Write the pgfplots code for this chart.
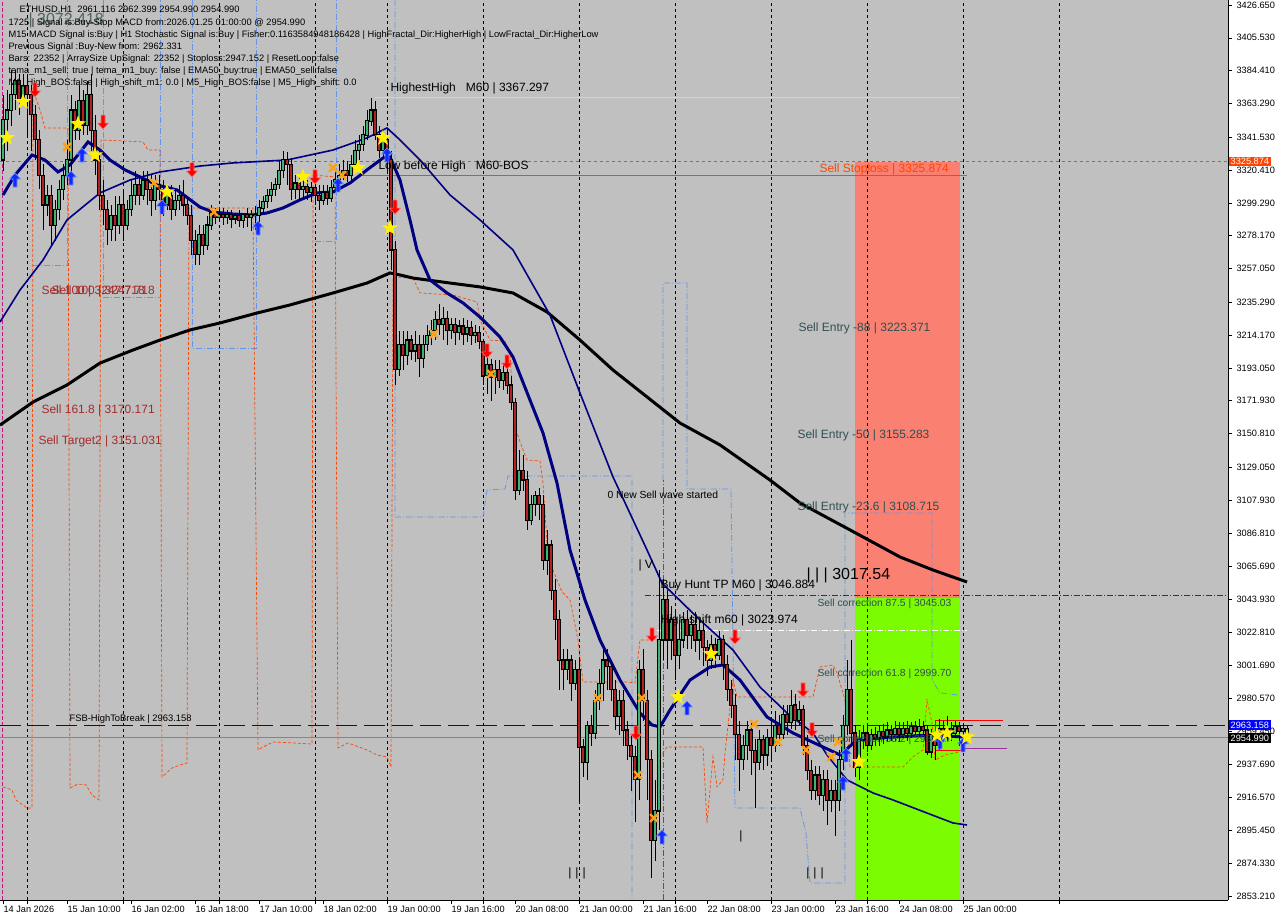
\documentclass[border=0pt]{standalone}
\usepackage{pgfplots}
\usepackage{pgfplotstable}
\pgfplotsset{compat=1.18}
\usepackage{fontspec}
\setmainfont{Liberation Sans}
\newcommand\fs[1]{\fontsize{#1}{#1}\selectfont}

\definecolor{chartbg}{RGB}{192,192,192}
\definecolor{bull}{RGB}{60,179,113}
\definecolor{bear}{RGB}{178,34,34}
\definecolor{orred}{RGB}{255,69,0}
\definecolor{salmonc}{RGB}{250,128,114}
\definecolor{lawn}{RGB}{124,252,0}
\definecolor{slate}{RGB}{47,79,79}
\definecolor{lslate}{RGB}{119,136,153}
\definecolor{cornflower}{RGB}{100,149,237}
\definecolor{brownred}{RGB}{165,42,42}
\definecolor{navyc}{RGB}{0,0,128}
\definecolor{mblue}{RGB}{0,0,205}
\definecolor{pale}{RGB}{200,235,120}
\definecolor{vred}{RGB}{199,21,133}
\definecolor{arrblue}{RGB}{20,40,255}
\definecolor{arrblueE}{RGB}{110,150,255}
\definecolor{arrred}{RGB}{255,0,0}
\definecolor{arrredE}{RGB}{255,110,110}
\definecolor{xorange}{RGB}{255,160,20}

% filled five-point star
\pgfdeclareplotmark{fstar}{%
  \pgfpathmoveto{\pgfpointpolar{90}{8.5pt}}%
  \pgfpathlineto{\pgfpointpolar{126}{3.4pt}}%
  \pgfpathlineto{\pgfpointpolar{162}{8.5pt}}%
  \pgfpathlineto{\pgfpointpolar{198}{3.4pt}}%
  \pgfpathlineto{\pgfpointpolar{234}{8.5pt}}%
  \pgfpathlineto{\pgfpointpolar{270}{3.4pt}}%
  \pgfpathlineto{\pgfpointpolar{306}{8.5pt}}%
  \pgfpathlineto{\pgfpointpolar{342}{3.4pt}}%
  \pgfpathlineto{\pgfpointpolar{18}{8.5pt}}%
  \pgfpathlineto{\pgfpointpolar{54}{3.4pt}}%
  \pgfpathclose\pgfusepathqfill}
% buy / sell arrows
\pgfdeclareplotmark{uparr}{%
  \pgfpathmoveto{\pgfqpoint{0pt}{7pt}}%
  \pgfpathlineto{\pgfqpoint{5.5pt}{1pt}}%
  \pgfpathlineto{\pgfqpoint{2pt}{1pt}}%
  \pgfpathlineto{\pgfqpoint{2pt}{-7pt}}%
  \pgfpathlineto{\pgfqpoint{-2pt}{-7pt}}%
  \pgfpathlineto{\pgfqpoint{-2pt}{1pt}}%
  \pgfpathlineto{\pgfqpoint{-5.5pt}{1pt}}%
  \pgfpathclose\pgfusepathqfillstroke}
\pgfdeclareplotmark{dnarr}{%
  \pgfpathmoveto{\pgfqpoint{0pt}{-7pt}}%
  \pgfpathlineto{\pgfqpoint{5.5pt}{-1pt}}%
  \pgfpathlineto{\pgfqpoint{2pt}{-1pt}}%
  \pgfpathlineto{\pgfqpoint{2pt}{7pt}}%
  \pgfpathlineto{\pgfqpoint{-2pt}{7pt}}%
  \pgfpathlineto{\pgfqpoint{-2pt}{-1pt}}%
  \pgfpathlineto{\pgfqpoint{-5.5pt}{-1pt}}%
  \pgfpathclose\pgfusepathqfillstroke}

% ETHUSD H1 bars: x position, open, high, low, close
\pgfplotstableread{
x o h l c
3 3327 3369 3320 3353
7 3353 3372 3333 3359
11 3359 3385 3349 3369
15 3369 3385 3359 3378
19 3378 3382 3356 3365
23 3365 3382 3362 3375
27 3375 3382 3343 3369
31 3369 3375 3333 3356
35 3356 3362 3327 3340
39 3340 3346 3308 3317
43 3317 3324 3282 3298
47 3298 3311 3291 3304
51 3304 3311 3272 3285
55 3285 3301 3275 3295
59 3295 3314 3288 3308
63 3308 3324 3301 3317
67 3317 3340 3311 3327
71 3327 3369 3317 3359
75 3359 3365 3340 3346
79 3346 3375 3340 3365
83 3365 3372 3343 3349
87 3349 3378 3343 3369
91 3369 3382 3333 3346
95 3346 3356 3317 3327
99 3327 3333 3295 3304
103 3304 3314 3285 3295
107 3295 3301 3272 3282
111 3282 3298 3275 3291
115 3291 3304 3275 3285
119 3285 3304 3279 3298
123 3298 3308 3275 3285
127 3285 3301 3282 3295
131 3295 3314 3291 3304
135 3304 3320 3298 3311
139 3311 3317 3298 3304
143 3304 3320 3301 3314
147 3314 3320 3298 3308
151 3308 3317 3291 3301
155 3301 3317 3295 3311
159 3311 3317 3301 3308
163 3308 3314 3291 3298
167 3298 3311 3295 3304
171 3304 3311 3288 3295
175 3295 3308 3291 3301
179 3301 3311 3295 3304
183 3304 3314 3291 3298
187 3298 3304 3285 3291
191 3291 3298 3266 3275
195 3275 3282 3259 3266
199 3266 3285 3259 3279
203 3279 3285 3266 3272
207 3272 3291 3269 3285
211 3285 3298 3282 3293
215 3293 3296 3286 3290
219 3290 3295 3287 3292
223 3292 3296 3285 3290
227 3290 3295 3286 3292
231 3292 3295 3283 3289
235 3289 3293 3286 3291
239 3291 3295 3284 3288
243 3288 3293 3283 3292
247 3292 3296 3284 3290
251 3290 3295 3281 3292
255 3292 3297 3282 3291
259 3291 3301 3287 3296
263 3296 3304 3292 3300
267 3300 3308 3296 3304
271 3304 3313 3300 3308
275 3308 3315 3304 3311
279 3311 3327 3308 3320
283 3320 3333 3315 3327
287 3327 3332 3311 3324
291 3324 3328 3301 3308
295 3308 3317 3302 3312
299 3312 3317 3301 3308
303 3308 3315 3302 3310
307 3310 3314 3301 3306
311 3306 3313 3300 3309
315 3309 3314 3298 3304
319 3304 3311 3295 3301
323 3301 3311 3298 3306
327 3306 3311 3298 3302
331 3302 3314 3300 3309
335 3309 3320 3306 3314
339 3314 3324 3311 3317
343 3317 3327 3314 3320
347 3320 3326 3313 3317
351 3317 3330 3314 3324
355 3324 3340 3320 3333
359 3333 3343 3327 3337
363 3337 3349 3333 3343
367 3343 3359 3340 3352
371 3352 3367 3349 3359
375 3359 3365 3340 3343
379 3343 3349 3328 3333
383 3333 3346 3328 3340
387 3340 3346 3320 3327
391 3327 3333 3256 3269
395 3269 3275 3182 3192
399 3192 3217 3188 3208
403 3208 3217 3192 3201
407 3201 3217 3195 3211
411 3211 3214 3198 3204
415 3204 3217 3197 3208
419 3208 3214 3187 3199
423 3199 3214 3193 3208
427 3208 3221 3204 3214
431 3214 3224 3208 3217
435 3217 3230 3211 3224
439 3224 3234 3214 3221
443 3221 3232 3211 3225
447 3225 3230 3208 3217
451 3217 3225 3212 3221
455 3221 3225 3208 3216
459 3216 3224 3211 3220
463 3220 3225 3208 3215
467 3215 3224 3210 3219
471 3219 3223 3208 3214
475 3214 3221 3209 3216
479 3216 3220 3205 3210
483 3210 3212 3182 3188
487 3188 3201 3176 3195
491 3195 3199 3172 3187
495 3187 3198 3176 3192
499 3192 3198 3180 3185
503 3185 3195 3179 3190
507 3190 3195 3176 3182
511 3182 3188 3166 3171
515 3171 3174 3108 3114
519 3114 3140 3111 3127
523 3127 3137 3114 3121
527 3121 3127 3089 3095
531 3095 3111 3092 3105
535 3105 3114 3098 3111
539 3111 3116 3095 3105
543 3105 3111 3063 3069
547 3069 3089 3060 3079
551 3079 3082 3044 3050
555 3050 3057 3018 3031
559 3031 3037 2986 3005
563 3005 3012 2986 2999
567 2999 3012 2992 3005
571 3005 3008 2979 2990
575 2990 3005 2986 2999
579 2999 3005 2913 2949
583 2949 2954 2930 2939
587 2939 2966 2928 2963
591 2963 2970 2950 2958
595 2958 2986 2954 2979
599 2979 2999 2973 2990
603 2990 3012 2979 3005
607 3005 3012 2986 3001
611 3001 3005 2979 2986
615 2986 2992 2960 2969
619 2969 2986 2957 2979
623 2979 2986 2950 2960
627 2960 2966 2941 2950
631 2950 2957 2921 2943
635 2943 2950 2901 2928
639 2928 3005 2915 2999
643 2999 3012 2966 2979
647 2979 2986 2915 2941
651 2941 2947 2865 2889
655 2889 2928 2876 2908
659 2908 3063 2896 3018
663 3018 3057 3005 3044
667 3044 3050 2999 3018
671 3018 3040 3005 3031
675 3031 3037 2992 3008
679 3008 3031 2999 3018
683 3018 3036 3013 3031
687 3031 3037 3012 3021
691 3021 3034 3012 3028
695 3028 3036 3010 3018
699 3018 3031 3005 3024
703 3024 3031 3001 3013
707 3013 3018 2995 3005
711 3005 3021 2999 3015
715 3015 3019 3000 3008
719 3008 3024 3005 3018
723 3018 3021 2992 3002
727 3002 3008 2979 2986
731 2986 2992 2968 2976
735 2976 2983 2941 2957
739 2957 2966 2921 2941
743 2941 2957 2934 2950
747 2950 2966 2941 2960
751 2960 2966 2931 2947
755 2947 2954 2910 2939
759 2939 2960 2934 2954
763 2954 2957 2934 2944
767 2944 2961 2937 2955
771 2955 2966 2941 2950
775 2950 2972 2946 2963
779 2963 2970 2950 2957
783 2957 2976 2954 2970
787 2970 2976 2957 2965
791 2965 2986 2961 2976
795 2976 2983 2960 2966
799 2966 2979 2963 2973
803 2973 2976 2944 2950
807 2950 2957 2928 2934
811 2934 2941 2915 2921
815 2921 2937 2915 2931
819 2931 2937 2912 2918
823 2918 2934 2908 2928
827 2928 2934 2899 2915
831 2915 2928 2907 2921
835 2921 2928 2892 2915
839 2915 2947 2908 2941
843 2941 2970 2934 2963
847 2963 3005 2957 2986
851 2986 3018 2950 2958
855 2958 2963 2930 2936
859 2936 2960 2928 2954
863 2954 2963 2948 2958
867 2958 2963 2946 2950
871 2950 2961 2947 2957
875 2957 2962 2950 2955
879 2955 2963 2950 2959
883 2959 2964 2951 2956
887 2956 2965 2952 2960
891 2960 2963 2953 2957
895 2957 2966 2953 2961
899 2961 2965 2952 2957
903 2957 2965 2955 2961
907 2961 2966 2953 2958
911 2958 2965 2955 2962
915 2962 2966 2956 2959
919 2959 2967 2956 2962
923 2962 2966 2956 2960
927 2960 2963 2944 2946
931 2946 2961 2942 2957
935 2957 2960 2941 2950
939 2950 2967 2947 2961
943 2961 2966 2952 2957
947 2957 2969 2953 2961
951 2961 2965 2953 2958
955 2958 2966 2955 2962
959 2962 2965 2950 2959
963 2959 2963 2952 2961.116
967 2961.116 2962.399 2954.990 2954.990
}\candles

\begin{document}
\begin{tikzpicture}
\begin{axis}[
  at={(0,0)}, anchor=south west,
  scale only axis, width=1228pt, height=900pt,
  xmin=0, xmax=1228, ymin=2850.63, ymax=3429.87,
  axis background/.style={fill=chartbg},
  axis x line*=bottom, axis y line*=right,
  axis line style={-, black, line width=0.8pt},
  tick align=outside, major tick length=4pt,
  tick style={black, line width=0.6pt},
  scaled y ticks=false,
  /pgf/number format/assume math mode=true,
  xtick={3,67,131,195,259,323,387,451,515,579,643,707,771,835,899,963},
  xticklabels={14 Jan 2026,15 Jan 10:00,16 Jan 02:00,16 Jan 18:00,17 Jan 10:00,18 Jan 02:00,19 Jan 00:00,19 Jan 16:00,20 Jan 08:00,21 Jan 00:00,21 Jan 16:00,22 Jan 08:00,23 Jan 00:00,23 Jan 16:00,24 Jan 08:00,25 Jan 00:00},
  xticklabel style={anchor=north west, xshift=-3pt, yshift=1.5pt, font=\fs{9.2}},
  extra x ticks={27,123,219,315,483,675,867,1059},
  extra x tick labels={},
  ytick={3426.650,3405.530,3384.410,3363.290,3341.530,3320.410,3299.290,3278.170,3257.050,3235.290,3214.170,3193.050,3171.930,3150.810,3129.050,3107.930,3086.810,3065.690,3043.930,3022.810,3001.690,2980.570,2959.450,2937.690,2916.570,2895.450,2874.330,2853.210},
  yticklabels={3426.650,3405.530,3384.410,3363.290,3341.530,3320.410,3299.290,3278.170,3257.050,3235.290,3214.170,3193.050,3171.930,3150.810,3129.050,3107.930,3086.810,3065.690,3043.930,3022.810,3001.690,2980.570,2959.450,2937.690,2916.570,2895.450,2874.330,2853.210},
  yticklabel style={font=\fs{9.2}, xshift=1pt},
]

% sell zone and correction zone
\addplot[fill=salmonc, draw=none, forget plot] coordinates {(855,3325.874) (960,3325.874) (960,3045.03) (855,3045.03)} -- cycle;
\addplot[fill=lawn, draw=none, forget plot] coordinates {(855,3045.03) (960,3045.03) (960,2850.63) (855,2850.63)} -- cycle;

% day separators
\foreach \d in {27,123,219,315,387,483,579,675,771,867,963,1059}{
  \edef\tmp{\noexpand\addplot[black, line width=0.8pt, dash pattern=on 3pt off 3pt, forget plot] coordinates {(\d,2850.63) (\d,3429.87)};}\tmp
}
\addplot[vred, line width=1pt, dash pattern=on 4pt off 2pt] coordinates {(2,2850.63) (2,3429.87)};
\addplot[vred, line width=0.8pt, dash pattern=on 6pt off 2pt on 1pt off 2pt] coordinates {(663,2850.63) (663,3120.9)};

% fractal step lines
\begin{scope}[cornflower, line width=0.8pt, dash pattern=on 6pt off 2pt on 1pt off 2pt]
\addplot[cornflower] coordinates {(33,3259.3) (67,3259.3) (67,3429.87)};
\addplot[cornflower] coordinates {(103,3429.87) (103,3238.7) (160,3238.7) (160,3429.87)};
\addplot[cornflower] coordinates {(192,3429.87) (192,3205.9) (256,3205.9) (256,3429.87)};
\addplot[cornflower] coordinates {(315,3274.8) (336,3274.8) (336,3429.87)};
\addplot[cornflower] coordinates {(395,3429.87) (395,3097.1) (483,3097.1) (487,3114.5) (505,3115.1) (508,3123.5) (632,3123.5) (632,2851.3)};
\addplot[cornflower] coordinates {(663,3120.9) (663,3247.7) (687,3247.7) (687,3115.1) (731,3115.1) (733,3018.0) (735,2909.8) (800,2909.8) (806,2893.7) (810,2861.6) (845,2861.6) (845,3099.7) (932,3099.7) (932,2992.2) (940,2983.9) (957,2982.6)};
\end{scope}

% channel line
\addplot[orred, line width=0.7pt, dash pattern=on 3pt off 2pt] coordinates {
(3,2923.4) (12,2921.4) (16,2915.0) (27,2909.8) (32,2909.8) (33,3372.0) (40,3359.1) (45,3347.5) (68,3347.5)
(70,2922.7) (78,2925.3) (86,2924.7) (92,2918.2) (99,2915.0) (101,3339.8) (143,3338.5) (148,3333.3) (160,3333.3)
(162,2929.8) (172,2935.6) (180,2937.5) (187,2938.8) (189,3296.0) (253,3296.0)
(258,2947.2) (263,2949.1) (273,2952.3) (293,2951.7) (312,2951.0) (313,3317.2) (335,3316.0)
(338,2948.5) (348,2951.7) (367,2947.2) (377,2944.0) (387,2942.7) (391,2936.2) (393,3251.6) (413,3250.9)
(420,3241.3) (453,3240.0) (477,3235.5) (480,3223.9) (490,3211.0) (505,3210.4) (510,3202.7) (513,3170.5)
(517,3151.2) (523,3140.3) (527,3133.8) (540,3133.2) (543,3119.0) (547,3080.4) (553,3063.0) (562,3048.9)
(570,3043.7) (578,3018.0) (583,2990.9) (627,2990.9) (635,2990.3) (640,3018.0) (658,3018.0) (658,2940.7)
(667,2949.1) (703,2949.1) (707,2900.2) (713,2942.7) (717,2923.4) (723,2927.9) (725,2945.2) (733,2992.2)
(737,2981.3) (813,2981.3) (820,3000.6) (833,3001.9) (837,2996.8) (845,2979.4) (850,2936.2) (903,2936.2)
(913,2942.7) (923,2947.2) (927,2979.4) (932,2964.6) (935,2940.7) (945,2944.0) (960,2945.9)};

% horizontal levels
\addplot[orred, line width=0.8pt, dash pattern=on 3pt off 3pt] coordinates {(0,3325.874) (1228,3325.874)};
\addplot[pale, line width=0.8pt] coordinates {(375,3367.297) (960,3367.297)};
\addplot[orred, line width=0.8pt] coordinates {(360,3317.2) (967,3317.2)};
\addplot[red!70!black, line width=0.8pt, dash pattern=on 6pt off 2pt on 1pt off 2pt] coordinates {(645,3046.884) (1228,3046.884)};
\addplot[white, line width=0.8pt, dash pattern=on 6pt off 2pt on 1pt off 2pt] coordinates {(657,3023.974) (967,3023.974)};
\addplot[mblue, line width=1pt, dash pattern=on 21pt off 7pt] coordinates {(0,2963.158) (1228,2963.158)};
\addplot[lslate, line width=0.9pt] coordinates {(0,2954.990) (1228,2954.990)};
\addplot[red, line width=0.8pt] coordinates {(1003,2966.5) (935,2966.5) (935,2947.2) (963,2947.2)};
\addplot[violet!80!white, line width=0.8pt] coordinates {(963,2948.0) (1007,2948.0)};

% moving averages
\addplot[black, line width=3pt] coordinates {
(0,3156.3) (33,3171.1) (67,3182.1) (100,3196.2) (133,3204.6) (160,3211.0) (190,3217.5) (220,3222.0)
(257,3228.4) (290,3233.6) (333,3241.3) (367,3247.7) (390,3254.2) (400,3252.9) (413,3250.9) (450,3247.7)
(480,3245.2) (513,3241.3) (547,3229.1) (580,3211.0) (613,3191.7) (647,3174.4) (680,3157.6) (720,3143.5)
(770,3120.9) (800,3106.1) (850,3088.8) (900,3071.4) (933,3063.0) (967,3055.3)};
\addplot[navyc, line width=1.6pt] coordinates {
(0,3222.6) (20,3243.2) (43,3262.5) (67,3288.3) (100,3305.7) (130,3314.0) (160,3319.2) (200,3323.0)
(233,3325.0) (287,3326.9) (333,3333.3) (367,3341.1) (387,3347.5) (400,3339.8) (420,3326.9) (450,3304.4)
(480,3288.3) (513,3269.0) (550,3227.1) (580,3176.9) (613,3122.9) (647,3075.9) (662,3054.6) (700,3030.8)
(733,3011.5) (760,2987.7) (787,2971.0) (813,2958.1) (827,2944.0) (847,2927.9) (873,2919.5) (893,2915.0)
(927,2906.6) (953,2900.2) (967,2898.9)};
\addplot[navyc, line width=3pt] coordinates {
(3,3304.4) (15,3317.2) (32,3330.1) (45,3326.9) (58,3319.2) (70,3323.7) (88,3338.5) (100,3333.3)
(110,3326.9) (125,3320.5) (140,3316.0) (157,3310.8) (177,3307.6) (200,3296.6) (213,3293.4) (233,3292.1)
(253,3291.5) (267,3292.8) (283,3296.0) (300,3301.2) (317,3305.7) (333,3306.3) (350,3312.1) (367,3320.5)
(383,3328.2) (390,3328.8) (400,3314.0) (410,3288.3) (417,3269.0) (430,3249.7) (447,3241.3) (463,3234.9)
(480,3225.8) (500,3212.9) (513,3200.1) (530,3172.4) (543,3151.2) (557,3119.0) (570,3075.9) (585,3043.7)
(600,3018.0) (620,2992.2) (640,2971.0) (652,2963.3) (660,2962.0) (670,2972.9) (690,2992.2) (710,3000.6)
(723,3001.9) (740,2992.2) (767,2968.4) (793,2958.1) (823,2949.1) (840,2944.0) (857,2953.6) (893,2955.5)
(930,2956.8) (965,2955.5)};

% candles: wicks, body outlines, body fills
\addplot[draw=none, mark=none, forget plot, error bars/.cd, y dir=both, y explicit, error mark=none,
  error bar style={draw=black, line width=0.8pt}]
  table[x=x, y=o, y error plus expr={\thisrow{h}-\thisrow{o}}, y error minus expr={\thisrow{o}-\thisrow{l}}] {\candles};
\addplot[draw=none, mark=none, forget plot, error bars/.cd, y dir=both, y explicit, error mark=none,
  error bar style={draw=black, line width=3.2pt}]
  table[x=x, y expr={(\thisrow{o}+\thisrow{c})/2}, y error expr={abs(\thisrow{c}-\thisrow{o})/2+0.45}] {\candles};
\addplot[draw=none, mark=none, forget plot, error bars/.cd, y dir=both, y explicit, error mark=none,
  error bar style={draw=bull, line width=1.5pt}]
  table[x expr={\thisrow{c}>=\thisrow{o} ? \thisrow{x} : nan}, y expr={(\thisrow{o}+\thisrow{c})/2}, y error expr={max(abs(\thisrow{c}-\thisrow{o})/2-0.3,0)}] {\candles};
\addplot[draw=none, mark=none, forget plot, error bars/.cd, y dir=both, y explicit, error mark=none,
  error bar style={draw=bear, line width=1.5pt}]
  table[x expr={\thisrow{c}<\thisrow{o} ? \thisrow{x} : nan}, y expr={(\thisrow{o}+\thisrow{c})/2}, y error expr={max(abs(\thisrow{c}-\thisrow{o})/2-0.3,0)}] {\candles};

% signal markers
\addplot[only marks, mark=x, mark size=5.5pt, mark options={draw=xorange, line width=2.4pt}] coordinates {
(67,3335.3) (154,3312.1) (214,3293.4) (333,3321.8) (342,3317.2) (434,3214.9) (491,3189.2) (598,2980.6)
(642,2980.6) (638,2931.1) (654,2903.4) (754,2963.9) (778,2952.3) (806,2947.2) (831,2942.7) (838,2952.3)};
\addplot[only marks, mark=uparr, mark options={fill=arrblue, draw=arrblueE, line width=0.6pt}] coordinates {
(15,3314.0) (71,3315.3) (82,3330.1) (162,3296.6) (258,3283.1) (338,3310.8) (387,3330.1) (687,2974.2)
(662,2891.2) (846,2944.0) (843,2925.9) (940,2952.3) (963,2950.4)};
\addplot[only marks, mark=dnarr, mark options={fill=arrred, draw=arrredE, line width=0.6pt}] coordinates {
(35,3372.0) (103,3351.3) (192,3320.5) (315,3316.0) (395,3296.6) (487,3204.0) (507,3196.9) (652,3021.2)
(735,3019.9) (803,2985.8) (636,2958.1) (812,2960.1)};
\addplot[only marks, mark=fstar, mark options={fill=yellow, draw=none}] coordinates {
(7,3341.1) (23,3364.3) (78,3350.1) (95,3330.1) (167,3306.3) (303,3316.0) (358,3321.8) (383,3341.1)
(390,3283.1) (678,2981.3) (711,3009.0) (859,2939.5) (937,2956.8) (947,2958.1) (967,2955.5)};

% level and status texts
\node[anchor=west, font=\fs{16}, text=slate!80!chartbg] at (axis cs:25,3416.5) {| 3072.418};
\node[anchor=west, font=\fs{12}] at (axis cs:387,3373.2) {HighestHigh\ \ \ M60 | 3367.297};
\node[anchor=west, font=\fs{12}] at (axis cs:375,3323.0) {Low before High\ \ \ M60-BOS};
\node[anchor=west, font=\fs{12}, text=orred] at (axis cs:816,3321.1) {Sell Stoploss | 3325.874};
\node[anchor=west, font=\fs{12}, text=slate] at (axis cs:795,3218.8) {Sell Entry -88 | 3223.371};
\node[anchor=west, font=\fs{12}, text=slate] at (axis cs:794,3149.9) {Sell Entry -50 | 3155.283};
\node[anchor=west, font=\fs{12}, text=slate] at (axis cs:794,3103.6) {Sell Entry -23.6 | 3108.715};
\node[anchor=west, font=\fs{16}] at (axis cs:803,3059.8) {| | | 3017.54};
\node[anchor=west, font=\fs{10.3}, text=slate] at (axis cs:814,3041.1) {Sell correction 87.5 | 3045.03};
\node[anchor=west, font=\fs{10.3}, text=slate] at (axis cs:814,2996.1) {Sell correction 61.8 | 2999.70};
\node[anchor=west, font=\fs{10.3}, text=slate] at (axis cs:814,2953.6) {Sell correction 38.2 | 2958.07};
\node[anchor=west, font=\fs{12}] at (axis cs:657,3053.4) {Buy Hunt TP M60 | 3046.884};
\node[anchor=west, font=\fs{12}] at (axis cs:657,3030.8) {High-shift m60 | 3023.974};
\node[anchor=west, font=\fs{10.3}] at (axis cs:604,3111.3) {0 New Sell wave started};
\node[anchor=west, font=\fs{12}] at (axis cs:635,3066.2) {| V};
\node[anchor=west, font=\fs{12}, text=brownred] at (axis cs:38,3242.0) {Sell 100 | 3247.718};
\node[anchor=west, font=\fs{12}, text=brownred] at (axis cs:48,3242.0) {Sell 100 | 3247.718};
\node[anchor=west, font=\fs{12}, text=brownred] at (axis cs:38,3165.4) {Sell 161.8 | 3170.171};
\node[anchor=west, font=\fs{12}, text=brownred] at (axis cs:35,3146.0) {Sell Target2 | 3151.031};
\node[anchor=west, font=\fs{9.4}] at (axis cs:66,2967.1) {FSB-HighToBreak | 2963.158};
\node[font=\fs{12}] at (axis cs:577,2868.0) {|\,\,|\,\,|};
\node[font=\fs{12}] at (axis cs:815,2868.0) {|\,\,|\,\,|};
\node[font=\fs{12}] at (axis cs:741,2891.8) {|};

\node[anchor=west, font=\fs{9.3}] at (axis cs:16,3423.4) {ETHUSD,H1\ \ 2961.116 2962.399 2954.990 2954.990};
\node[anchor=west, font=\fs{9.3}] at (axis cs:5,3415.1) {1725 | Signal is:Buy-Stop MACD from:2026.01.25 01:00:00 @ 2954.990};
\node[anchor=west, font=\fs{9.3}] at (axis cs:5,3407.3) {M15 MACD Signal is:Buy | H1 Stochastic Signal is:Buy | Fisher:0.1163584948186428 | HighFractal\_Dir:HigherHigh | LowFractal\_Dir:HigherLow};
\node[anchor=west, font=\fs{9.3}] at (axis cs:5,3399.6) {Previous Signal :Buy-New from: 2962.331};
\node[anchor=west, font=\fs{9.3}] at (axis cs:5,3391.9) {Bars: 22352 | ArraySize UpSignal: 22352 | Stoploss:2947.152 | ResetLoop:false};
\node[anchor=west, font=\fs{9.3}] at (axis cs:5,3384.2) {tema\_m1\_sell: true | tema\_m1\_buy: false | EMA50\_buy:true | EMA50\_sell:false};
\node[anchor=west, font=\fs{9.3}] at (axis cs:5,3376.4) {M1\_High\_BOS:false | High\_shift\_m1: 0.0 | M5\_High\_BOS:false | M5\_High\_shift: 0.0};

\coordinate (lvA) at (axis cs:1228,3325.874);
\coordinate (lvB) at (axis cs:1228,2963.158);
\coordinate (lvC) at (axis cs:1228,2954.990);
\end{axis}

% price tags on the scale
\node[anchor=west, fill=orred, text=white, font=\fs{9.2}, inner xsep=2pt, inner ysep=1.4pt] at ([xshift=0.5pt]lvA) {3325.874};
\node[anchor=west, fill=blue, text=white, font=\fs{9.2}, inner xsep=2pt, inner ysep=1.4pt] at ([xshift=0.5pt]lvB) {2963.158};
\node[anchor=west, fill=black, text=white, font=\fs{9.2}, inner xsep=2pt, inner ysep=1.4pt] at ([xshift=0.5pt]lvC) {2954.990};

\pgfresetboundingbox
\path[use as bounding box] (0,-20pt) rectangle (1280pt,900pt);
\end{tikzpicture}
\end{document}
